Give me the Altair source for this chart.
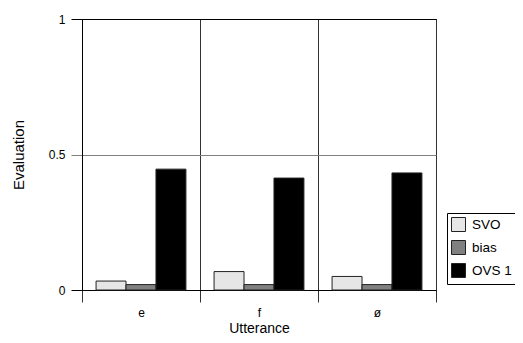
import altair as alt
import pandas as pd

utterances = ["e", "f", "ø"]
series = ["SVO", "bias", "OVS 1"]
svo = [0.033, 0.068, 0.050]
bias = [0.020, 0.020, 0.020]
ovs1 = [0.446, 0.413, 0.432]
colors = ["#e6e6e6", "#808080", "#000000"]

rows = []
for i, u in enumerate(utterances):
    for s, vals in zip(series, [svo, bias, ovs1]):
        rows.append({"Utterance": u, "Series": s, "Evaluation": vals[i]})
df = pd.DataFrame(rows)

FONT = "Liberation Sans"

chart = alt.Chart(df).mark_bar(stroke="#222", strokeWidth=1).encode(
    x=alt.X(
        "Utterance:N", sort=utterances,
        scale=alt.Scale(paddingInner=0, paddingOuter=0),
        axis=alt.Axis(title="Utterance", labelAngle=0, tickBand="extent", grid=True,
                      gridColor="#333", gridWidth=1, tickSize=12, tickColor="#333",
                      domainColor="#000", labelFontSize=12, labelPadding=5,
                      titleFontSize=14, titleFontWeight="normal", titlePadding=3),
    ),
    xOffset=alt.XOffset("Series:N", sort=series,
                        scale=alt.Scale(paddingInner=0, paddingOuter=0.47)),
    y=alt.Y(
        "Evaluation:Q", scale=alt.Scale(domain=[0, 1]),
        axis=alt.Axis(title="Evaluation", values=[0, 0.5, 1], format="~g", grid=True,
                      gridColor={"condition": {"test": "datum.value === 0.5", "value": "#808080"}, "value": "#000"},
                      tickColor={"condition": {"test": "datum.value === 0.5", "value": "#808080"}, "value": "#000"},
                      tickSize=11, domainColor="#000", labelPadding=6, labelFontSize=12,
                      titleFontSize=15, titleFontWeight="normal", titlePadding=22),
    ),
    fill=alt.Fill(
        "Series:N", sort=series,
        scale=alt.Scale(domain=series, range=colors),
        legend=alt.Legend(orient="none", legendX=365, legendY=194, title=None,
                          symbolType="square", symbolSize=196, symbolStrokeColor="#222",
                          symbolStrokeWidth=1, labelFontSize=13.5, labelOffset=6,
                          rowPadding=4, padding=4, strokeColor="#000", fillColor="#fff"),
    ),
).properties(
    width=354, height=271,
    autosize=alt.AutoSizeParams(type="none"),
    padding={"left": 74, "top": 11, "right": 79, "bottom": 45},
).configure_view(
    stroke="#000", strokeWidth=1
).configure_axis(
    labelFont=FONT, titleFont=FONT, labelColor="#000", titleColor="#000"
).configure_legend(
    labelFont=FONT, labelColor="#000"
)

chart.save("out.html", embed_options={"renderer": "svg", "actions": False})
